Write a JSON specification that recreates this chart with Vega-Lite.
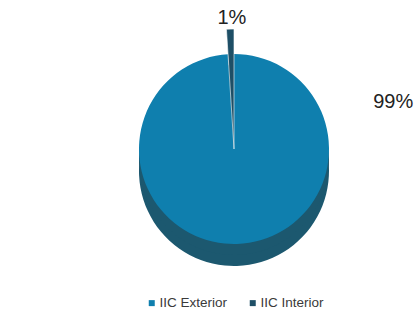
{
  "$schema": "https://vega.github.io/schema/vega-lite/v6.json",
  "width": 418,
  "height": 316,
  "autosize": {"type": "fit", "contains": "padding"},
  "padding": {"left": 50, "top": 20, "right": 0, "bottom": 6},
  "background": "white",
  "config": {
    "view": {"stroke": null},
    "font": "Liberation Sans",
    "legend": {"layout": {"bottom": {"anchor": "middle"}}}
  },
  "data": {
    "values": [
      {"category": "IIC Exterior", "share": 99, "label": "99%"},
      {"category": "IIC Interior", "share": 1, "label": "1%"}
    ]
  },
  "transform": [
    {"stack": "share", "groupby": [], "as": ["s0", "s1"], "sort": [{"field": "share", "order": "descending"}]}
  ],
  "layer": [
    {
      "mark": {"type": "arc", "radius": 95, "yOffset": 22, "color": "#1c586f"},
      "encoding": {
        "theta": {"field": "s0", "type": "quantitative", "scale": {"domain": [0, 100]}},
        "theta2": {"field": "s1"}
      }
    },
    {
      "mark": {"type": "arc", "radius": 95, "yOffset": 11, "color": "#1c586f"},
      "encoding": {
        "theta": {"field": "s0", "type": "quantitative", "scale": {"domain": [0, 100]}},
        "theta2": {"field": "s1"}
      }
    },
    {
      "transform": [{"filter": "datum.category === 'IIC Exterior'"}],
      "mark": {"type": "arc", "radius": 95},
      "encoding": {
        "theta": {"field": "s0", "type": "quantitative", "scale": {"domain": [0, 100]}},
        "theta2": {"field": "s1"},
        "color": {
          "field": "category",
          "type": "nominal",
          "scale": {"domain": ["IIC Exterior", "IIC Interior"], "range": ["#0f7fae", "#1e4f66"]},
          "legend": {
            "orient": "bottom",
            "title": null,
            "symbolType": "square",
            "symbolSize": 36,
            "symbolOffset": 0,
            "labelOffset": 1,
            "labelFontSize": 13.5,
            "labelColor": "#3a3a3a",
            "columnPadding": 18,
            "symbolStrokeWidth": 0
          }
        }
      }
    },
    {
      "transform": [{"filter": "datum.category === 'IIC Interior'"}],
      "mark": {"type": "arc", "radius": 120, "stroke": "white", "strokeWidth": 0.6},
      "encoding": {
        "theta": {"field": "s0", "type": "quantitative", "scale": {"domain": [0, 100]}},
        "theta2": {"field": "s1"},
        "color": {"field": "category", "type": "nominal"}
      }
    },
    {
      "transform": [{"filter": "datum.category === 'IIC Exterior'"}],
      "mark": {"type": "text", "radius": 166, "thetaOffset": 1.283, "fontSize": 20, "color": "#222222"},
      "encoding": {
        "theta": {"field": "s0", "type": "quantitative", "scale": {"domain": [0, 100]}},
        "text": {"field": "label"}
      }
    },
    {
      "transform": [{"filter": "datum.category === 'IIC Interior'"}],
      "mark": {"type": "text", "radius": 131, "thetaOffset": 0.047, "fontSize": 20, "color": "#222222"},
      "encoding": {
        "theta": {"field": "s0", "type": "quantitative", "scale": {"domain": [0, 100]}},
        "text": {"field": "label"}
      }
    }
  ]
}
